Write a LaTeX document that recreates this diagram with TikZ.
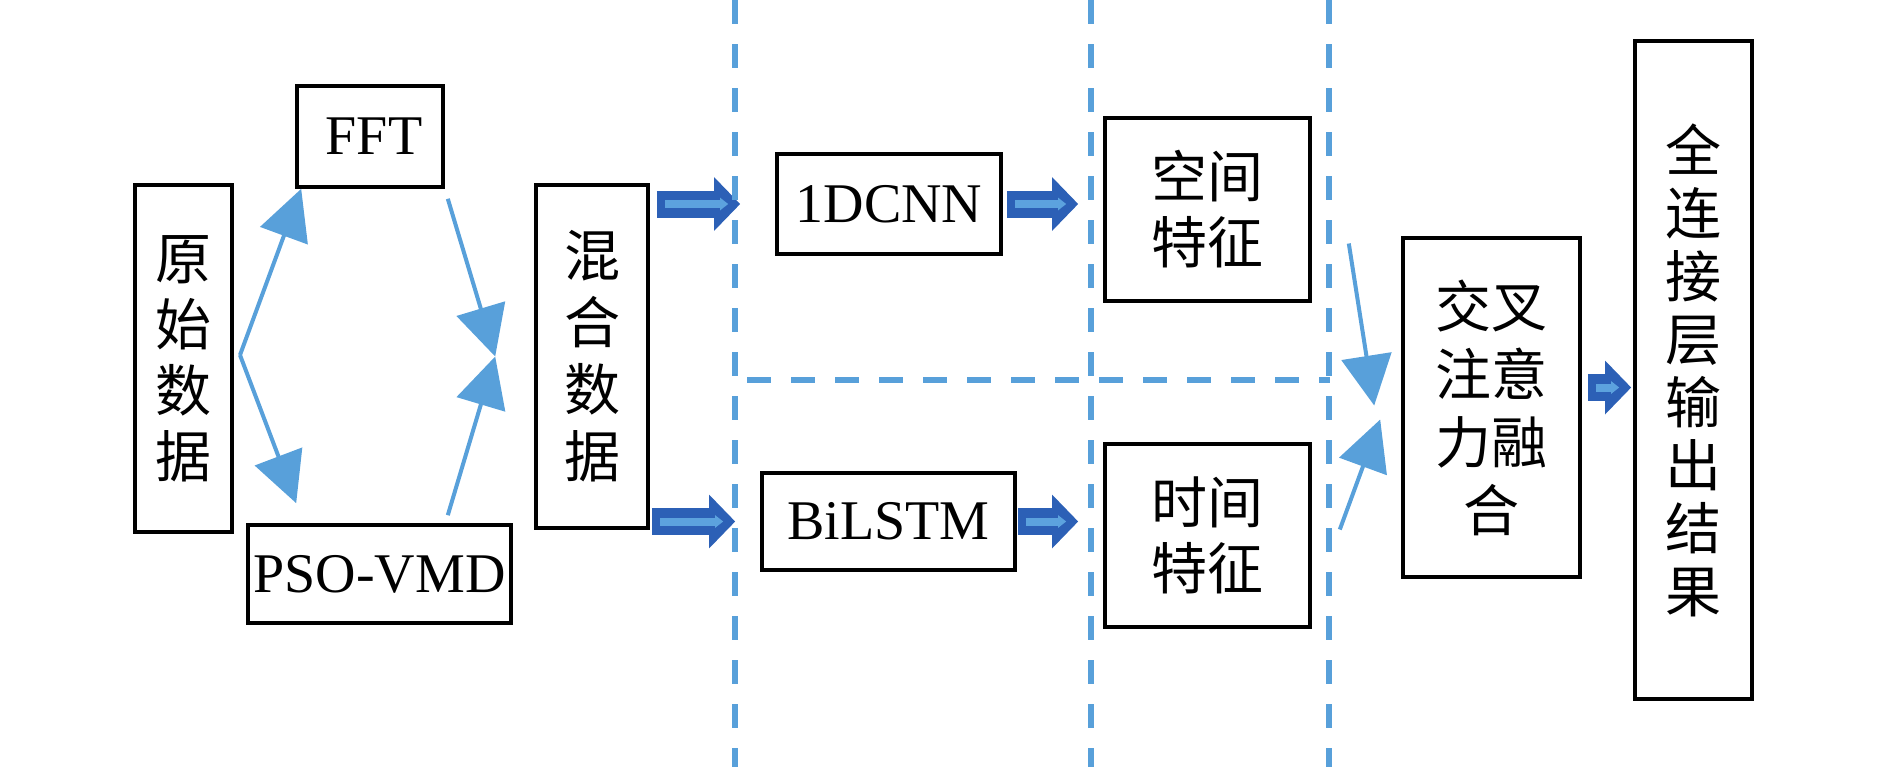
\documentclass[tikz,border=0pt]{standalone}
\usepackage{fontspec}
\setmainfont{Liberation Serif}
\newfontfamily\cjk{Noto Sans CJK SC}
\usetikzlibrary{arrows.meta}
\definecolor{lineblue}{RGB}{88,160,218}
\definecolor{arrdark}{RGB}{44,96,182}
\definecolor{arrlight}{RGB}{92,162,222}

\begin{document}
\begin{tikzpicture}[x=0.5pt, y=-0.5pt,
	box/.style={draw, line width=1.8pt, align=center, inner sep=0pt, font=\fontsize{28}{33}\selectfont},
	cjkbox/.style={box, font=\cjk\fontsize{28}{33}\selectfont},
	thinarr/.style={draw=lineblue, line width=2pt, -{Triangle[length=25pt, width=25pt]}},
	blockarr/.style 2 args={draw=arrdark, line width=13.5pt, -{Triangle[length=13pt, width=26pt]}, shorten <=#1, shorten >=#2,
		postaction={draw=arrlight, line width=4pt, -{Triangle[length=4pt, width=6pt]}, shorten <=#1+4pt, shorten >=#2+6pt}},
	divider/.style={draw=lineblue, line width=2.6pt, dash pattern=on 12pt off 10pt}]
		\useasboundingbox (0,0) rectangle (1890,767);
		
		% Define boxes
		\node[cjkbox, minimum width=48.5pt, minimum height=173.5pt] (raw) at (183.5,358.5) {原\\始\\数\\据};
		\node[box, minimum width=73pt, minimum height=50.5pt] (fft) at (370,136.5) {\hspace{4pt}FFT};
		\node[box, minimum width=131.5pt, minimum height=49pt] (pso) at (379.5,574) {PSO-VMD};
		\node[cjkbox, minimum width=56pt, minimum height=171.5pt, font=\cjk\fontsize{28}{33.5}\selectfont] (mix) at (592,356.5) {混\\合\\数\\据};
		\node[box, minimum width=112pt, minimum height=50pt] (cnn) at (889,204) {1DCNN};
		\node[box, minimum width=126.5pt, minimum height=48.5pt] (lstm) at (888.5,521.5) {BiLSTM};
		\node[cjkbox, minimum width=102.5pt, minimum height=91.5pt] (space) at (1207.5,209.5) {空间\\特征};
		\node[cjkbox, minimum width=102.5pt, minimum height=91.5pt] (time) at (1207.5,535.5) {时间\\特征};
		\node[cjkbox, minimum width=88.5pt, minimum height=169.5pt, font=\cjk\fontsize{28}{34}\selectfont] (fuse) at (1491.5,407.5) {交叉\\注意\\力融\\合};
		\node[cjkbox, minimum width=58.5pt, minimum height=329pt, font=\cjk\fontsize{28}{31.5}\selectfont] (out) at (1693.5,370) {全\\连\\接\\层\\输\\出\\结\\果};
		
		% Define arrows
		\coordinate (split) at (240,355);
		\coordinate (merge) at ([xshift=-19.5pt]mix.west);
		\draw[thinarr] (split) -- ([xshift=3pt]fft.south west);
		\draw[thinarr] (split) -- ([xshift=25pt,yshift=10pt]pso.north west);
		\draw[thinarr] ([xshift=1.5pt,yshift=-5pt]fft.south east) -- (merge);
		\draw[thinarr] ([xshift=-32.5pt,yshift=4pt]pso.north east) -- (merge);
		\draw[blockarr={3.5pt}{17.5pt}] (mix.east |- cnn.west) -- (cnn.west);
		\draw[blockarr={1pt}{12.5pt}] (mix.east |- lstm.west) -- (lstm.west);
		\draw[blockarr={2pt}{12.5pt}] (cnn.east) -- (cnn.east -| space.west);
		\draw[blockarr={0.5pt}{12.5pt}] (lstm.east) -- (lstm.east -| time.west);
		\draw[thinarr] ([xshift=18.5pt,yshift=-17pt]space.east) -- ([xshift=-13.5pt,yshift=1pt]fuse.west);
		\draw[thinarr] ([xshift=14pt,yshift=3pt]time.east) -- ([xshift=-10.5pt,yshift=-6pt]fuse.west);
		\draw[blockarr={3pt}{1pt}] ([yshift=10pt]fuse.east) -- ([yshift=10pt]fuse.east -| out.west);
		
		% Dividers
		\foreach \x in {735,1091,1329}
			\draw[divider] (\x,0) -- (\x,767);
		\draw[divider] (747,380) -- (1330,380);
	\end{tikzpicture}
\end{document}
